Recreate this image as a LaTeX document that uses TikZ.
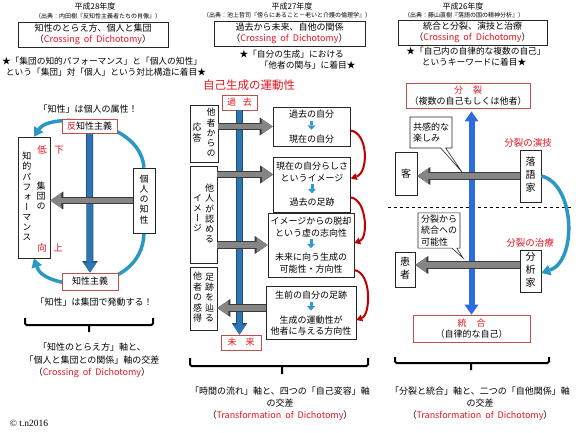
\documentclass[tikz,border=0pt]{standalone}
\usepackage{fontspec}
\setmainfont{Noto Sans CJK JP}
\newfontfamily\tatefont[RawFeature=+vert]{Noto Sans CJK JP}
\newfontfamily\copyfont{Liberation Serif}
\usetikzlibrary{arrows.meta,positioning,shapes.callouts,backgrounds}
\definecolor{jred}{HTML}{E3141E}
\definecolor{bred}{HTML}{C0504D}
\definecolor{dred}{HTML}{C00000}
\definecolor{ablue}{HTML}{2E75B6}
\definecolor{abluel}{HTML}{1F4E79}
\definecolor{bblue}{HTML}{2C6BE0}
\definecolor{tealc}{HTML}{2A98C2}
\definecolor{sblue}{HTML}{2E9BD6}
\definecolor{agray}{HTML}{858585}
\definecolor{agrayl}{HTML}{3A3A3A}
\newcommand{\tcol}[1]{\begin{tabular}[c]{@{}c@{}}#1\end{tabular}}
\newcommand{\sdown}{\tikz[baseline=-1pt]\draw[draw=sblue,line width=3pt,-{Triangle[length=4.5pt,width=8pt,line width=0pt]}] (0,9pt) -- (0,0);}
\newcommand{\crossd}{（{\color{jred}Crossing\ \ of\ \ Dichotomy}）}
\newcommand{\transd}{（{\color{jred}Transformation\ \ of\ \ Dichotomy}）}

\begin{document}
\begin{tikzpicture}[x=1pt, y=-1pt,
  font=\fontsize{9}{11.5}\selectfont,
  box/.style={draw=black!85, line width=0.6pt, fill=white, align=center, inner sep=1pt},
  rbox/.style={box, draw=bred, line width=0.8pt},
  tbox/.style={box, font=\fontsize{9}{10}\tatefont},
  call/.style={rectangle callout, draw=black!85, line width=0.6pt, fill=white,
               align=left, inner sep=2pt, callout pointer width=5pt},
  sz/.style 2 args={minimum width=#1, minimum height=#2},
  ttl/.style={font=\fontsize{8}{9}\selectfont},
  src/.style={font=\fontsize{6}{7}\selectfont},
  star/.style={font=\fontsize{8.7}{11}\selectfont},
  rl/.style={text=jred, font=\fontsize{9.5}{11}\selectfont},
  brc/.style={line width=2pt, rounded corners=1.5pt},
  blu/.style={draw=ablue, line width=5.5pt, -{Triangle[length=10pt,width=13pt,line width=0pt]},
              preaction={draw=abluel, line width=7pt, -{Triangle[length=11.5pt,width=15.5pt,line width=0pt]}}},
  bblu/.style={draw=bblue, line width=6pt,
               {Triangle[length=10pt,width=14pt,line width=0pt]}-{Triangle[length=10pt,width=14pt,line width=0pt]}},
  garr/.style={draw=agray, line width=5.5pt, -{Triangle[length=11pt,width=15pt,line width=0pt]},
               preaction={draw=agrayl, line width=7.5pt, -{Triangle[length=13pt,width=18pt,line width=0pt]}}},
  tarr/.style={draw=tealc, line width=3.5pt, -{Triangle[length=9pt,width=11pt,line width=0pt]}},
  rarr/.style={draw=dred, line width=2pt, -{Triangle[length=6pt,width=7pt,line width=0pt]}},
]
\useasboundingbox (0,0) rectangle (576,432);

% H28 column
\node[ttl] (y28) at (95,6) {平成28年度};
\node[src] (s28) at (98,16) {（出典：内田樹『反知性主義者たちの肖像』）};
\node[box, sz={150pt}{25pt}] (t28) at (93,34.5) {知性のとらえ方、個人と集団\\\crossd};
\node[star] (k28a) at (102,61) {★「集団の知的パフォーマンス」と「個人の知性」};
\node[star] (k28b) at (106,72) {という「集団」対「個人」という対比構造に着目★};
\node (zok) at (88,109) {「知性」は個人の属性！};
\node[rbox, sz={55pt}{14pt}] (hanchi) at (89.5,126.5) {{\color{jred}反}知性主義};
\node[tbox, sz={32pt}{121pt}] (shudan) at (34,197.5)
  {\tcol{知\\的\\パ\\フ\\ォ\\ー\\マ\\ン\\ス}\hspace{5pt}\tcol{集\\団\\の}};
\node[rl] (tei) at (42,150) {低};
\node[rl] (ka) at (59,150) {下};
\node[rl] (kou) at (42,248) {向};
\node[rl] (jou) at (58,248) {上};
\node[tbox, sz={22pt}{65pt}] (kojin) at (144,200.5) {\tcol{個\\人\\の\\知\\性}};
\node[rbox, sz={56pt}{17pt}] (chisei) at (90,281.5) {知性主義};
\node (hatsu) at (94,302) {「知性」は集団で発動する！};
\draw[brc] (25,318) -- (25,325) -- (153,325) -- (153,318) (89,325) -- (89,332);
\node[align=center, font=\fontsize{9}{12.5}\selectfont] (ax28) at (92,360.5)
  {「知性のとらえ方」軸と、\\「個人と集団との関係」軸の交差\\\crossd};
\node[font=\fontsize{9.5}{11}\copyfont] (copy) at (29,423) {© t.n2016};

\begin{pgfonlayer}{background}
\draw[tarr] (kojin.north) .. controls (140,118) and (50,112) .. (shudan.north);
\draw[tarr] (kojin.south) .. controls (142,295) and (45,292) .. (shudan.south);
\end{pgfonlayer}
\draw[blu] (hanchi.south) -- (chisei.north);
\draw[garr] (kojin.west) -- (kojin.west -| shudan.east);

% H27 column
\node[ttl] (y27) at (292,6) {平成27年度};
\node[src] (s27) at (287,15) {（出典：池上哲司『傍らにあること－老いと介護の倫理学』）};
\node[box, sz={151pt}{25pt}] (t27) at (289.5,33.5) {過去から未来、自他の関係\\\crossd};
\node[star, anchor=west] (k27a) at (236,54) {★「自分の生成」における};
\node[star, anchor=east] (k27b) at (359,65) {「他者の関与」に着目★};
\node[font=\fontsize{11.5}{13}\selectfont, text=jred] (undo) at (249,85) {自己生成の運動性};
\node[rbox, sz={35pt}{15pt}, text=jred] (kako) at (239.5,102.5) {過\hspace{7pt}去};
\node[rbox, sz={40pt}{15pt}, text=jred] (mirai) at (241,342.5) {未\hspace{9pt}来};
\node[tbox, sz={28pt}{57pt}] (lb1) at (204,133.5) {\tcol{応\\答}\hspace{5pt}\tcol{他\\者\\か\\ら\\の}};
\node[tbox, sz={27pt}{97pt}] (lb2) at (203.5,214.5) {\tcol{イ\\メ\\ー\\ジ}\hspace{3pt}\tcol{他\\人\\が\\認\\め\\る}};
\node[tbox, sz={27pt}{63pt}] (lb3) at (203.5,298.5) {\tcol{他\\者\\の\\感\\得}\hspace{3pt}\tcol{足\\跡\\を\\辿\\る}};
\node[box, sz={77pt}{39pt}] (r1) at (311.5,126.5) {過去の自分\\\sdown\\現在の自分};
\node[box, sz={77pt}{55pt}] (r2) at (312,184.5) {現在の自分らしさ\\というイメージ\\\sdown\\過去の足跡};
\node[box, sz={86pt}{64pt}] (r3) at (311,245) {イメージからの脱却\\という虚の志向性\\\sdown\\未来に向う生成の\\可能性・方向性};
\node[box, sz={90pt}{53pt}] (r4) at (311,313) {生前の自分の足跡\\\sdown\\生成の運動性が\\他者に与える方向性};
\draw[brc] (190,358) -- (190,366) -- (368,366) -- (368,358) (282,366) -- (282,374);
\node[align=center, font=\fontsize{9}{11.8}\selectfont] (ax27) at (280,403.5)
  {「時間の流れ」軸と、四つの「自己変容」軸\\の交差\\\transd};

\draw[blu] (kako.south) -- (kako.south |- mirai.north);
\coordinate (g2) at ([yshift=10pt]r2.west);
\coordinate (g4) at ([yshift=5pt]r4.west);
\draw[garr] (lb1.east |- r1.west) -- (r1.west);
\draw[garr] (g2 -| lb2.east) -- (g2);
\draw[garr] (lb2.east |- r3.west) -- (r3.west);
\draw[garr] (g4) -- (g4 -| lb3.east);
\draw[rarr] ([yshift=-4pt]r1.east) .. controls +(18,2) and +(18,-6) .. ([yshift=6pt]r2.east);
\draw[rarr] ([yshift=-13pt]r2.east) .. controls +(16,2) and +(14,-5) .. ([yshift=2pt]r3.east);
\draw[rarr] ([yshift=-25pt]r3.east) .. controls +(18,3) and +(14,-5) .. ([yshift=-7pt]r4.east);

% H26 column
\node[ttl] (y26) at (463,6) {平成26年度};
\node[src] (s26) at (464,15) {（出典：藤山直樹『落語の国の精神分析』）};
\node[box, sz={149pt}{25pt}] (t26) at (472.5,32.5) {統合と分裂、演技と治療\\\crossd};
\node[star] (k26a) at (476,51) {★「自己内の自律的な複数の自己」};
\node[star] (k26b) at (474,62) {というキーワードに着目★};
\node[rbox, sz={124pt}{25pt}] (bunretsu) at (468,95.5) {{\color{jred}分\hspace{10pt}裂}\\（複数の自己もしくは他者）};
\node[rbox, sz={117pt}{27pt}] (tougou) at (471.5,328.5) {{\color{jred}統\hspace{10pt}合}\\（自律的な自己）};
\node[call, sz={42pt}{31pt}, callout absolute pointer={(462,172)}] (kyo) at (431,132.5) {共感的な\\楽しみ};
\node[call, sz={42pt}{35pt}, callout absolute pointer={(463,258)}] (kano) at (439,230.5) {分裂から\\統合への\\可能性};
\node[rl] (engi) at (528,143) {分裂の演技};
\node[rl] (chiryo) at (530,243) {分裂の治療};
\node[tbox, sz={21pt}{52pt}, font=\fontsize{10}{13}\tatefont] (rakugo) at (530.5,176) {\tcol{落\\語\\家}};
\node[tbox, sz={22pt}{43pt}, font=\fontsize{10}{13}\tatefont] (kyaku) at (406,173.5) {客};
\node[tbox, sz={20pt}{35pt}, font=\fontsize{10}{13}\tatefont] (kanja) at (405,269.5) {\tcol{患\\者}};
\node[tbox, sz={21pt}{42pt}, font=\fontsize{10}{13}\tatefont] (bunseki) at (530.5,271) {\tcol{分\\析\\家}};
\draw[dashed, line width=0.8pt] (388,207) -- (572,207);
\draw[brc] (395,357) -- (395,363) -- (549,363) -- (549,357) (471,363) -- (471,370);
\node[align=center, font=\fontsize{9}{11.8}\selectfont] (ax26) at (480,403.5)
  {「分裂と統合」軸と、二つの「自他関係」軸\\の交差\\\transd};

\draw[bblu, shorten <=3pt] (bunretsu.south -| tougou.north) -- (tougou.north);
\coordinate (g6) at ([yshift=6pt]bunseki.west);
\draw[garr] (rakugo.west) -- (rakugo.west -| kyaku.east);
\draw[garr] (g6) -- (g6 -| kanja.east);
\draw[tarr] (rakugo.east) .. controls +(34,8) and +(36,-12) .. ([yshift=-2pt]bunseki.east);
\end{tikzpicture}
\end{document}
